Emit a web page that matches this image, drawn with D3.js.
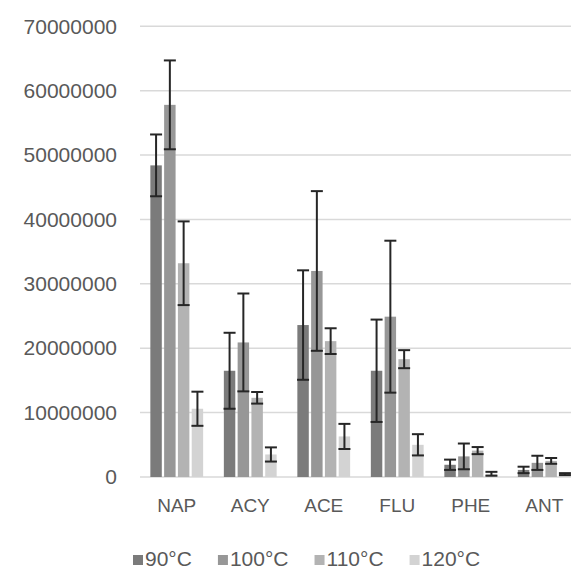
<!DOCTYPE html>
<html>
<head>
<meta charset="utf-8">
<script src="https://cdn.jsdelivr.net/npm/d3@7"></script>
<style>
  html, body { margin: 0; padding: 0; background: #fff; overflow: hidden; }
  svg { display: block; }
  text { font-family: "Liberation Sans", Arial, sans-serif; fill: #595959; }
</style>
</head>
<body>
<svg id="chart" width="571" height="573"></svg>
<script>
const categories = ["NAP", "ACY", "ACE", "FLU", "PHE", "ANT"];
const seriesNames = ["90°C", "100°C", "110°C", "120°C"];
const seriesColors = ["#7b7b7b", "#979797", "#b3b3b3", "#d3d3d3"];
// mean values per series (same order as categories)
const values90  = [48400000, 16500000, 23600000, 16500000, 1900000, 1100000];
const values100 = [57800000, 20900000, 32000000, 24900000, 3200000, 2200000];
const values110 = [33200000, 12300000, 21100000, 18300000, 4100000, 2500000];
const values120 = [10600000,  3500000,  6300000,  5000000,  500000,  450000];
// error (± half-range) per series
const err90  = [4800000, 5900000,  8500000,  7950000,  800000, 500000];
const err100 = [6900000, 7600000, 12400000, 11800000, 2000000, 1100000];
const err110 = [6500000,  900000,  2000000,  1400000,  550000, 450000];
const err120 = [2650000, 1100000,  1950000,  1650000,  300000, 150000];
const yTicks = [0, 10000000, 20000000, 30000000, 40000000, 50000000, 60000000, 70000000];

const seriesValues = [values90, values100, values110, values120];
const seriesErrors = [err90, err100, err110, err120];

const svg = d3.select("#chart");
const plotLeft = 140, plotRight = 581, plotTop = 26.3, plotBottom = 477;

const y = d3.scaleLinear().domain([0, 70000000]).range([plotBottom, plotTop]);
const x = d3.scaleBand().domain(categories).range([plotLeft, plotRight]).padding(0);
const inner = d3.scaleBand().domain(d3.range(4)).range([-26.4, 26.4]).paddingInner(0.17);

// gridlines
svg.append("g").selectAll("line").data(yTicks).join("line")
  .attr("x1", plotLeft).attr("x2", 571)
  .attr("y1", d => y(d)).attr("y2", d => y(d))
  .attr("stroke", "#d9d9d9").attr("stroke-width", 1.5);

// y-axis labels
const yAxis = d3.axisLeft(y).tickValues(yTicks).tickSize(0).tickPadding(0).tickFormat(d3.format("d"));
const yg = svg.append("g").attr("transform", "translate(117,0)").call(yAxis);
yg.select(".domain").remove();
yg.selectAll("text").attr("font-size", 21).attr("fill", "#595959")
  .style("font-family", "'Liberation Sans', Arial, sans-serif");

// bars
const groups = svg.append("g").selectAll("g").data(categories).join("g")
  .attr("transform", d => `translate(${x(d) + x.bandwidth() / 2},0)`);

seriesValues.forEach((vals, si) => {
  groups.append("rect")
    .attr("x", inner(si))
    .attr("width", inner.bandwidth())
    .attr("y", (d, ci) => y(vals[ci]))
    .attr("height", (d, ci) => y(0) - y(vals[ci]))
    .attr("fill", seriesColors[si]);
});

// error bars
seriesValues.forEach((vals, si) => {
  const errs = seriesErrors[si];
  const cx = inner(si) + inner.bandwidth() / 2;
  const eg = groups.append("g").attr("stroke", "#262626").attr("stroke-width", 2);
  eg.append("line")
    .attr("x1", cx).attr("x2", cx)
    .attr("y1", (d, ci) => y(vals[ci] + errs[ci]))
    .attr("y2", (d, ci) => y(Math.max(0, vals[ci] - errs[ci])));
  [1, -1].forEach(sgn => {
    eg.append("line")
      .attr("x1", cx - 6).attr("x2", cx + 6)
      .attr("y1", (d, ci) => y(vals[ci] + sgn * errs[ci]))
      .attr("y2", (d, ci) => y(vals[ci] + sgn * errs[ci]));
  });
});

// x-axis labels
const xAxis = d3.axisBottom(x).tickSize(0).tickPadding(0);
const xg = svg.append("g").attr("transform", `translate(0,${plotBottom})`).call(xAxis);
xg.select(".domain").remove();
xg.selectAll("text").attr("font-size", 19).attr("fill", "#595959")
  .attr("dy", null).attr("y", 30).attr("dominant-baseline", "middle")
  .style("font-family", "'Liberation Sans', Arial, sans-serif");

// legend
const legend = svg.append("g").attr("transform", "translate(133,560)");
let lx = 0;
seriesNames.forEach((name, i) => {
  const g = legend.append("g").attr("transform", `translate(${lx},0)`);
  g.append("rect").attr("x", 0).attr("y", -5).attr("width", 10).attr("height", 10).attr("fill", seriesColors[i]);
  const t = g.append("text").attr("x", 12).attr("y", 0).attr("dominant-baseline", "middle")
    .attr("font-size", 21).text(name);
  lx += 12 + t.node().getComputedTextLength() + 26;
});
</script>
</body>
</html>
